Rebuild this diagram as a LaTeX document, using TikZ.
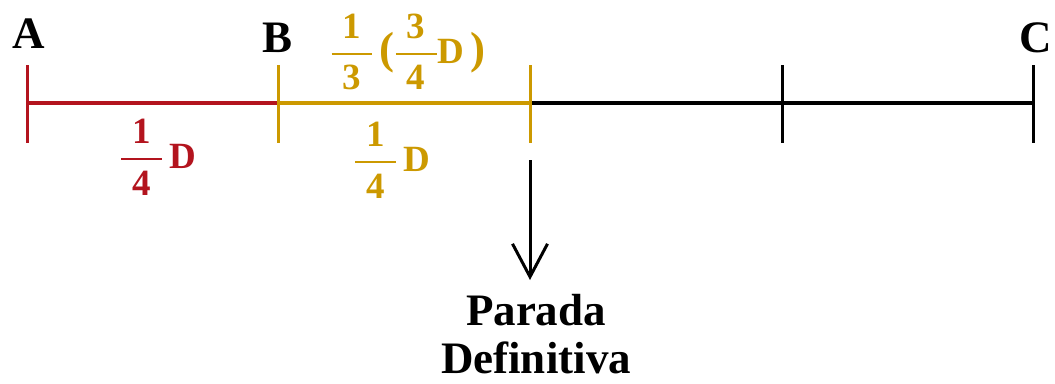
\documentclass[tikz,border=0pt]{standalone}
\usepackage{fix-cm}
\usepackage{amsmath}
\usepackage{fontspec}
\setmainfont{Liberation Serif}
\usetikzlibrary{arrows.meta,calc,positioning}
\definecolor{segred}{HTML}{B3141E}
\definecolor{seggold}{HTML}{CC9900}
\newcommand{\bfrac}[2]{\genfrac{}{}{2pt}{0}%
  {\text{\hspace{.3em}#1\rule[-.12em]{0pt}{.12em}\hspace{.3em}}}%
  {\text{\hspace{.3em}\rule{0pt}{.78em}#2\hspace{.3em}}}}
\newcommand{\bpar}[1]{{\fontsize{45}{50}\selectfont #1}}

\begin{document}
\begin{tikzpicture}[x=1pt,y=-1pt, every node/.style={font=\bfseries\fontsize{45}{50}\selectfont,inner sep=0pt,align=center},
  seg/.style={line width=3.5pt,draw=#1},
  tick/.style={line width=3pt,draw=#1},
  frac/.style={font=\bfseries\fontsize{37}{40}\selectfont,text=#1},
  arr/.style={-{Straight Barb[length=33pt,width=35pt]},line width=3pt}]
  \useasboundingbox (0,0) rectangle (1055,383);
  % points on the line A ... C
  \coordinate (a) at (27,103);
  \coordinate (b) at (278,103);
  \coordinate (m) at (530,103);
  \coordinate (q) at (782,103);
  \coordinate (c) at (1033,103);
  \draw[seg=segred] (a) -- (b);
  \draw[seg=seggold] (b) -- (m);
  \draw[seg=black] (m) -- (c);
  \draw[tick=segred] ($(a)+(0,-38)$) -- ($(a)+(0,40)$);
  \draw[tick=seggold] ($(b)+(0,-38)$) -- ($(b)+(0,40)$);
  \draw[tick=seggold] ($(m)+(0,-38)$) -- ($(m)+(0,40)$);
  \draw[tick=black] ($(q)+(0,-38)$) -- ($(q)+(0,40)$);
  \draw[tick=black] ($(c)+(0,-38)$) -- ($(c)+(0,40)$);
  % letters
  \node (la) at (29,34) {A};
  \node (lb) at (278,38) {B};
  \node (lc) at (1036,38) {C};
  % lengths
  \node[frac=segred] (dab) at (158,157) {$\bfrac{1}{4}$\,D};
  \node[frac=seggold] (dbm) at (392,160) {$\bfrac{1}{4}$\,D};
  \node[frac=seggold] (dtop) at (408,52) {$\bfrac{1}{3}$\,\bpar{(}$\bfrac{3}{4}$D\,\bpar{)}};
  % stop
  \coordinate (drop) at ($(m)+(0,57)$);
  \node[anchor=north,font=\bfseries\fontsize{45}{48}\selectfont] (stop) at (536,294) {Parada\\Definitiva};
  \draw[arr,shorten >=14pt] (drop) -- (drop |- stop.north);
\end{tikzpicture}
\end{document}
